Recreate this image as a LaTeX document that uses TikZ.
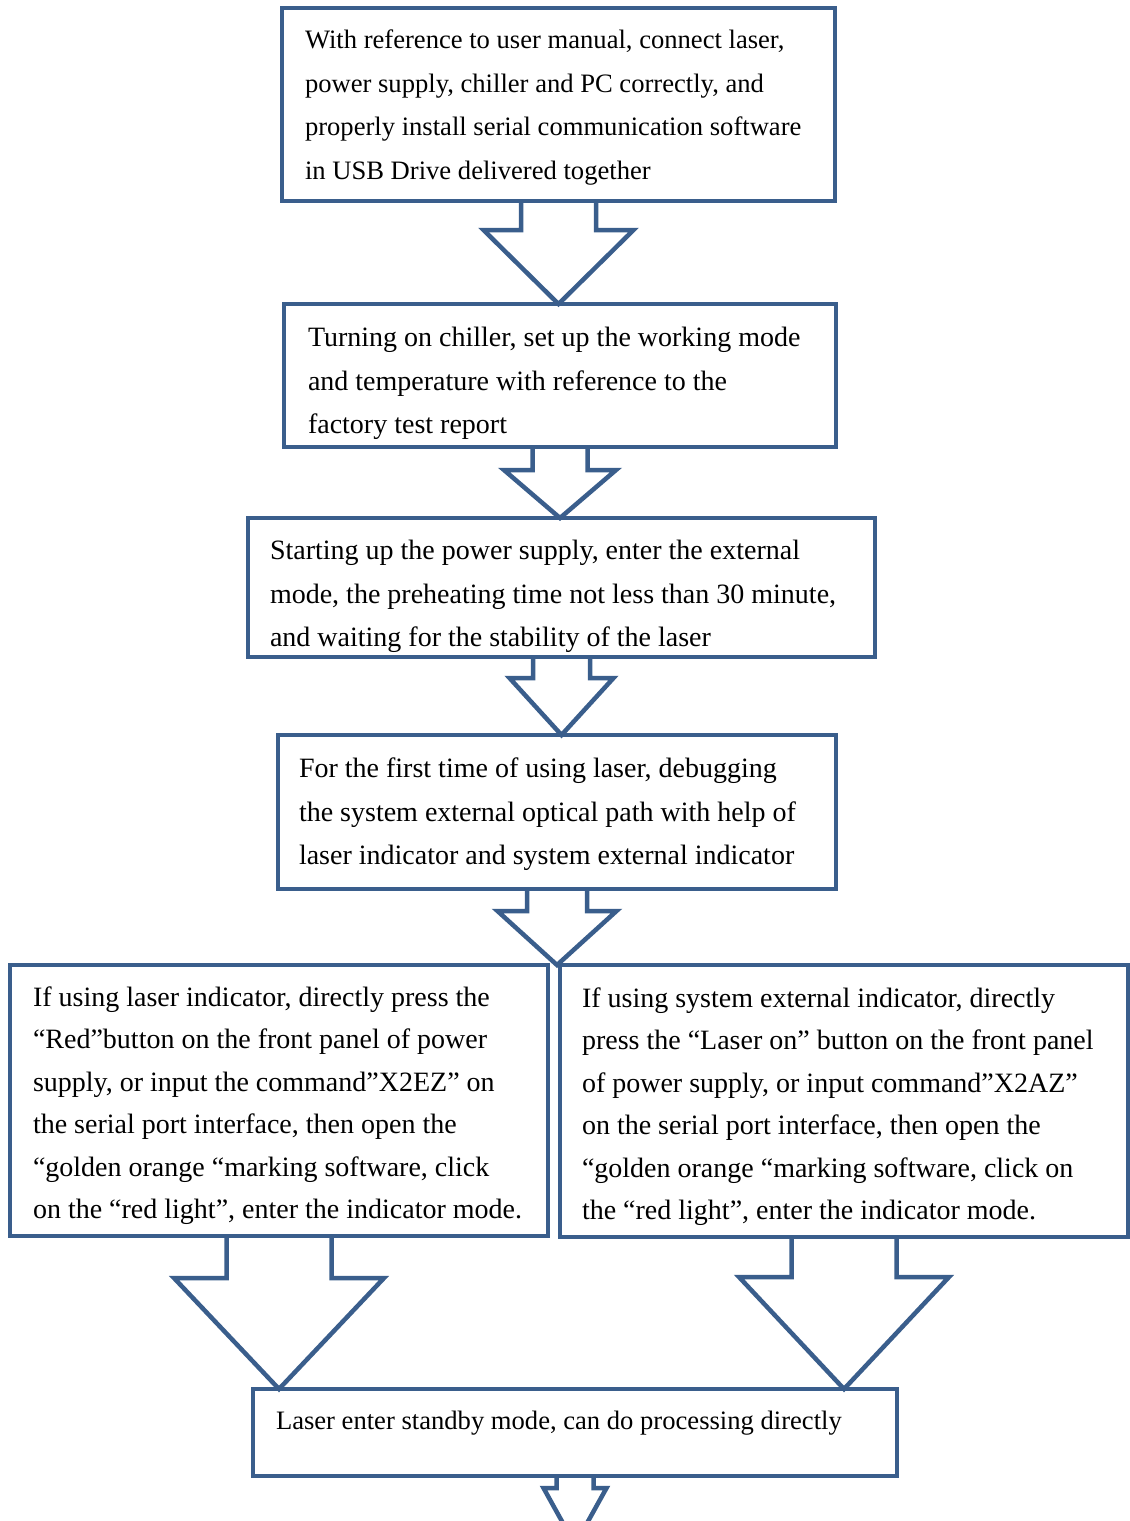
\documentclass[tikz,border=0pt]{standalone}
\usepackage{fontspec}
\setmainfont{Liberation Serif}
\usetikzlibrary{calc}
\definecolor{flowblue}{RGB}{58,94,140}
\tikzset{
  flowbox/.style={draw=flowblue, line width=4.5pt, fill=none, inner sep=0pt, outer sep=0pt, anchor=north west},
  txt/.style={anchor=base west, inner sep=0pt, outer sep=0pt, font=\fontsize{28}{32}\selectfont, text=black},
  txtsmall/.style={txt, font=\fontsize{26.6}{30}\selectfont},
  flowarrow/.style={draw=flowblue, line width=4.5pt, line join=miter, line cap=butt}
}
% #1 from node, #2 to node/coordinate, #3 shaft half width, #4 head half width, #5 shaft length
\newcommand\bigarrow[5]{%
  \draw[flowarrow] ($(#1.south)+(-#3,0)$) -- ($(#1.south)+(-#3,#5)$) -- ($(#1.south)+(-#4,#5)$)
    -- (#1.south |- #2.north) -- ($(#1.south)+(#4,#5)$) -- ($(#1.south)+(#3,#5)$) -- ($(#1.south)+(#3,0)$);}
\begin{document}
\begin{tikzpicture}[x=1pt,y=-1pt]
\useasboundingbox (0,0) rectangle (1130,1521);
\fill[white] (0,0) rectangle (1130,1521);
% boxes
\node[flowbox, minimum width=553pt, minimum height=193pt] (b1) at (282,8) {};
\node[flowbox, minimum width=552pt, minimum height=143pt] (b2) at (284,304) {};
\node[flowbox, minimum width=627pt, minimum height=139pt] (b3) at (248,518) {};
\node[flowbox, minimum width=558pt, minimum height=154pt] (b4) at (278,735) {};
\node[flowbox, minimum width=538pt, minimum height=271pt] (b5) at (10,965) {};
\node[flowbox, minimum width=568pt, minimum height=272pt] (b6) at (560,965) {};
\node[flowbox, minimum width=644pt, minimum height=87pt] (b7) at (253,1389) {};
\node[inner sep=0pt, minimum size=0pt] (endn) at (575,1545) {};
% arrows
\bigarrow{b1}{b2}{37.5}{75}{29}
\bigarrow{b2}{b3}{27.5}{56}{23}
\bigarrow{b3}{b4}{28.5}{52}{21}
\bigarrow{b4}{b5}{30}{59.5}{22}
\bigarrow{b5}{b7}{52.5}{105}{42}
\bigarrow{b6}{b7}{52.5}{105}{40}
\bigarrow{b7}{endn}{18.5}{31.5}{12}
% texts
\node[txtsmall] (t11) at (305,48.5) {With reference to user manual, connect laser,};
\node[txtsmall] (t12) at (305,92) {power supply, chiller and PC correctly, and};
\node[txtsmall] (t13) at (305,135.5) {properly install serial communication software};
\node[txtsmall] (t14) at (305,179) {in USB Drive delivered together};
\node[txt] (t21) at (308,346.5) {Turning on chiller, set up the working mode};
\node[txt] (t22) at (308,390) {and temperature with reference to the};
\node[txt] (t23) at (308,433.5) {factory test report};
\node[txt] (t31) at (270,559.5) {Starting up the power supply, enter the external};
\node[txt] (t32) at (270,603) {mode, the preheating time not less than 30 minute,};
\node[txt] (t33) at (270,646.5) {and waiting for the stability of the laser};
\node[txt] (t41) at (299,777.5) {For the first time of using laser, debugging};
\node[txt] (t42) at (299,821) {the system external optical path with help of};
\node[txt] (t43) at (299,864.5) {laser indicator and system external indicator};
\node[txt] (t51) at (33,1006) {If using laser indicator, directly press the};
\node[txt] (t52) at (33,1048.5) {“Red”button on the front panel of power};
\node[txt] (t53) at (33,1091) {supply, or input the command”X2EZ” on};
\node[txt] (t54) at (33,1133.5) {the serial port interface, then open the};
\node[txt] (t55) at (33,1176) {“golden orange “marking software, click};
\node[txt] (t56) at (33,1218.5) {on the “red light”, enter the indicator mode.};
\node[txt] (t61) at (582,1007) {If using system external indicator, directly};
\node[txt] (t62) at (582,1049.5) {press the “Laser on” button on the front panel};
\node[txt] (t63) at (582,1092) {of power supply, or input command”X2AZ”};
\node[txt] (t64) at (582,1134.5) {on the serial port interface, then open the};
\node[txt] (t65) at (582,1177) {“golden orange “marking software, click on};
\node[txt] (t66) at (582,1219.5) {the “red light”, enter the indicator mode.};
\node[txtsmall] (t71) at (276,1429) {Laser enter standby mode, can do processing directly};
\end{tikzpicture}
\end{document}
